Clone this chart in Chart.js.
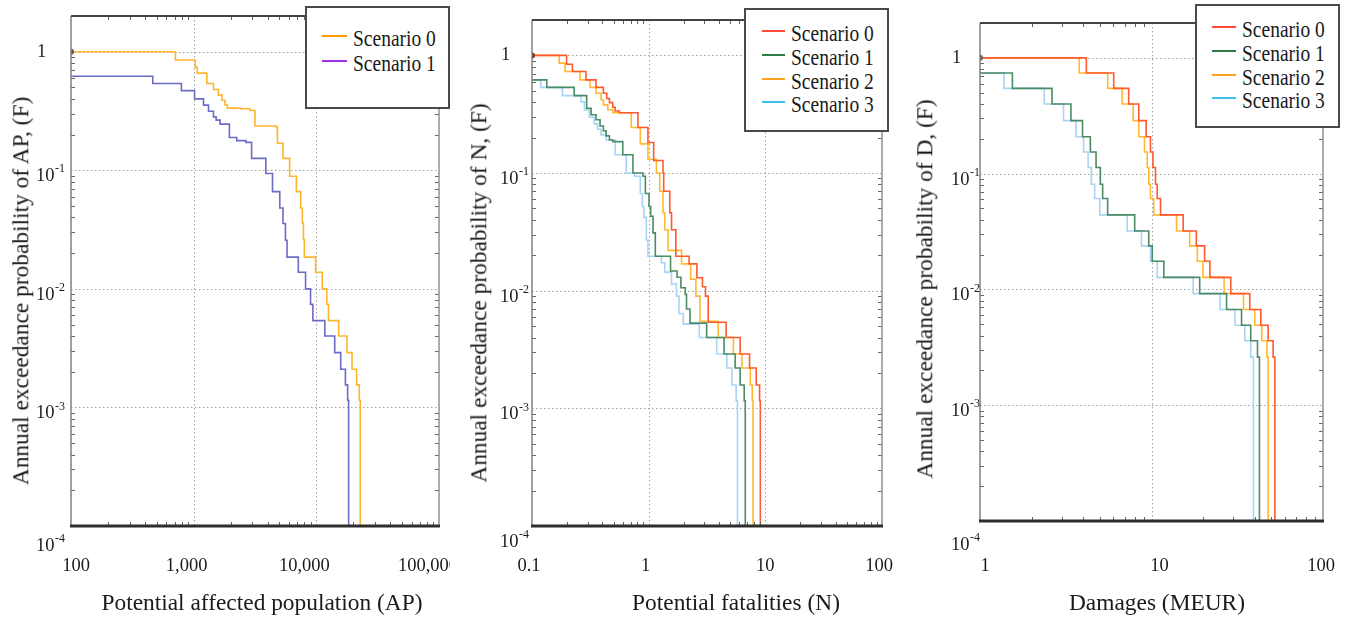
<!DOCTYPE html>
<html>
<head>
<meta charset="utf-8">
<script src="https://cdn.jsdelivr.net/npm/chart.js@4.4.1/dist/chart.umd.min.js"></script>
<style>
  body { margin: 0; background: #fff; width: 1351px; height: 623px; position: relative; overflow: hidden;
         font-family: 'Liberation Serif', 'Times New Roman', serif; color: #1a1a1a; }
  canvas { position: absolute; top: 0; }
  .legend { position: absolute; background: #fff; border: 2px solid #4a4a4a; box-sizing: border-box; }
  .legend .ln { position: absolute; height: 2px; }
  .legend .tx { position: absolute; font-size: 19.5px; line-height: 1; white-space: nowrap; transform: scaleY(1.2); transform-origin: 0 50%; }
  .title { position: absolute; font-size: 23.4px; line-height: 1; white-space: nowrap; transform: translate(-50%, -50%); }
  .title.rot { transform: translate(-50%, -50%) rotate(-90deg); }
</style>
</head>
<body>
<canvas id="c1"></canvas>
<canvas id="c2"></canvas>
<canvas id="c3"></canvas>
<script>
const scenarioNames = ['Scenario 0', 'Scenario 1', 'Scenario 2', 'Scenario 3'];
const yExps = [0, -1, -2, -3, -4];

// panel 1 - potential affected population
const apX0 = [100, 710, 1030, 1070, 1280, 1450, 1590, 1700, 1800, 1880, 2390, 2880, 3160, 4730, 4820, 5350, 6060, 6870, 7450, 7690, 7850, 7980, 9860, 11170, 12170, 12560, 15210, 17800, 19540, 21290, 22390, 22800];
const apY0 = [1, 0.85, 0.74, 0.66, 0.54, 0.48, 0.43, 0.39, 0.355, 0.334, 0.33, 0.319, 0.236, 0.23, 0.169, 0.126, 0.089, 0.066, 0.048, 0.036, 0.026, 0.0185, 0.0138, 0.01, 0.0074, 0.0054, 0.004, 0.0029, 0.0021, 0.00155, 0.00115, 0.0001];
const apX1 = [100, 464, 794, 1017, 1203, 1321, 1450, 1525, 1643, 1955, 2244, 2667, 2967, 3874, 4393, 5035, 5350, 5600, 5770, 7130, 8170, 8970, 9370, 11720, 14120, 15800, 17260, 18000, 18330];
const apY1 = [0.62, 0.54, 0.47, 0.40, 0.354, 0.315, 0.282, 0.265, 0.245, 0.189, 0.178, 0.172, 0.126, 0.094, 0.066, 0.048, 0.0356, 0.0257, 0.0185, 0.0138, 0.01, 0.0074, 0.0054, 0.004, 0.0029, 0.0021, 0.00155, 0.00115, 0.0001];
const apTicks = [100, 1000, 10000, 100000];
const apTickLabels = ['100', '1,000', '10,000', '100,000'];

// panel 2 - potential fatalities
const nX0 = [0.1, 0.198, 0.222, 0.29, 0.354, 0.409, 0.437, 0.461, 0.492, 0.516, 0.562, 0.809, 0.986, 1.104, 1.327, 1.346, 1.517, 1.57, 1.71, 2.22, 2.59, 2.89, 3.07, 3.24, 4.61, 6.08, 7.32, 8.36, 8.93, 9.06];
const nY0 = [1, 0.84, 0.73, 0.62, 0.535, 0.477, 0.43, 0.397, 0.363, 0.337, 0.326, 0.244, 0.182, 0.128, 0.1, 0.07, 0.046, 0.033, 0.0196, 0.0169, 0.0129, 0.0108, 0.009, 0.0054, 0.004, 0.0029, 0.0022, 0.00158, 0.00116, 0.0001];
const nX1 = [0.1, 0.134, 0.23, 0.294, 0.321, 0.354, 0.383, 0.409, 0.432, 0.461, 0.492, 0.6, 0.733, 0.893, 0.937, 1.006, 1.04, 1.09, 1.14, 1.54, 1.75, 1.89, 2.06, 2.11, 2.26, 3.14, 4.43, 5.51, 6.08, 6.59, 6.73];
const nY1 = [0.62, 0.535, 0.455, 0.356, 0.313, 0.284, 0.251, 0.229, 0.207, 0.191, 0.185, 0.143, 0.1, 0.094, 0.067, 0.052, 0.043, 0.031, 0.0196, 0.0147, 0.013, 0.0106, 0.0093, 0.007, 0.0053, 0.004, 0.0029, 0.0022, 0.00158, 0.00116, 0.0001];
const nX2 = [0.1, 0.171, 0.192, 0.258, 0.314, 0.354, 0.391, 0.409, 0.446, 0.492, 0.709, 0.848, 0.986, 1.165, 1.245, 1.327, 1.374, 1.466, 1.914, 2.29, 2.54, 2.75, 3.95, 5.33, 6.3, 7.43, 7.73, 7.84];
const nY2 = [1, 0.86, 0.73, 0.62, 0.535, 0.477, 0.42, 0.38, 0.345, 0.326, 0.244, 0.177, 0.131, 0.1, 0.07, 0.046, 0.033, 0.022, 0.0169, 0.0125, 0.009, 0.0055, 0.004, 0.0029, 0.0022, 0.00158, 0.00116, 0.0001];
const nX3 = [0.1, 0.119, 0.182, 0.263, 0.281, 0.31, 0.342, 0.365, 0.391, 0.432, 0.516, 0.642, 0.757, 0.848, 0.883, 0.91, 0.955, 0.986, 1.286, 1.374, 1.57, 1.73, 1.82, 1.98, 2.72, 3.83, 4.68, 5.17, 5.62, 5.77];
const nY3 = [0.62, 0.535, 0.455, 0.404, 0.344, 0.298, 0.262, 0.236, 0.211, 0.191, 0.143, 0.1, 0.094, 0.067, 0.052, 0.042, 0.027, 0.0196, 0.0173, 0.0144, 0.0114, 0.009, 0.0064, 0.0052, 0.004, 0.0029, 0.0022, 0.00158, 0.00116, 0.0001];
const nTicks = [0.1, 1, 10, 100];
const nTickLabels = ['0.1', '1', '10', '100'];

// panel 3 - damages
const dX0 = [1, 4.17, 6.02, 7.36, 8.43, 9.31, 9.86, 10.2, 10.55, 10.8, 11.29, 15.3, 18.25, 20.4, 21.9, 29, 37.4, 43.4, 47.9, 51.2, 52.4];
const dY0 = [1, 0.74, 0.545, 0.40, 0.287, 0.208, 0.154, 0.113, 0.081, 0.061, 0.044, 0.032, 0.0238, 0.0175, 0.0127, 0.0092, 0.0067, 0.0049, 0.0036, 0.0026, 0.0001];
const dX1 = [1, 1.545, 2.63, 3.39, 3.96, 4.4, 4.75, 5.03, 5.19, 5.55, 7.98, 9.64, 10.1, 11.8, 19.1, 27.4, 33.5, 37.9, 41.5, 42.6];
const dY1 = [0.74, 0.545, 0.40, 0.287, 0.208, 0.154, 0.113, 0.081, 0.061, 0.044, 0.032, 0.0238, 0.0175, 0.0127, 0.0092, 0.0067, 0.0049, 0.0036, 0.0026, 0.0001];
const dX2 = [1, 3.79, 5.55, 6.74, 7.82, 8.43, 9.1, 9.44, 9.64, 9.86, 10.3, 14.0, 16.7, 18.5, 19.95, 26.5, 34.4, 40, 44, 47.1, 47.9];
const dY2 = [1, 0.74, 0.545, 0.40, 0.287, 0.208, 0.154, 0.113, 0.081, 0.061, 0.044, 0.032, 0.0238, 0.0175, 0.0127, 0.0092, 0.0067, 0.0049, 0.0036, 0.0026, 0.0001];
const dX3 = [1, 1.38, 2.37, 3.07, 3.63, 4.02, 4.27, 4.46, 4.66, 4.99, 7.21, 8.74, 9.86, 10.8, 17.5, 25.1, 30.7, 35, 37.9, 39.3];
const dY3 = [0.74, 0.545, 0.40, 0.287, 0.208, 0.154, 0.113, 0.081, 0.061, 0.044, 0.032, 0.0238, 0.0175, 0.0127, 0.0092, 0.0067, 0.0049, 0.0036, 0.0026, 0.0001];
const dTicks = [1, 10, 100];
const dTickLabels = ['1', '10', '100'];

const pts = (xs, ys) => xs.map((x, i) => ({ x: x, y: ys[i] }));

const panels = [
  { id: 'c1', x: 0, w: 450, area: { l: 71, t: 16, r: 439, b: 526 }, xMin: 100, xMax: 100000,
    ticks: apTicks, tickLabels: apTickLabels, tickOff: [5, -7, -12, -11], yLabelX: 36, bottomDy: 20,
    xTitle: 'Potential affected population (AP)', xTitlePos: [262, 603],
    yTitle: 'Annual exceedance probability of AP, (F)', yTitlePos: [21, 291],
    legend: { box: [305, 6, 145, 103], lineX: [15, 40], textX: 46, rows: [31, 56] },
    series: [
      { name: scenarioNames[0], xs: apX0, ys: apY0, color: '#ffb52b', key: '#ff9a00', dot: '#555' },
      { name: scenarioNames[1], xs: apX1, ys: apY1, color: '#6b6bc8', key: '#a030e0' }
    ] },
  { id: 'c2', x: 450, w: 450, area: { l: 532, t: 20, r: 882, b: 526 }, xMin: 0.1, xMax: 100,
    ticks: nTicks, tickLabels: nTickLabels, tickOff: [-3, -3, 0, -3], yLabelX: 500, bottomDy: 16,
    xTitle: 'Potential fatalities (N)', xTitlePos: [736, 603],
    yTitle: 'Annual exceedance probability of N, (F)', yTitlePos: [479, 293],
    legend: { box: [744, 8, 145, 124], lineX: [16, 39], textX: 45, rows: [24, 48, 71.5, 95] },
    series: [
      { name: scenarioNames[0], xs: nX0, ys: nY0, color: '#ff5a2e', key: '#ff4a3a', dot: '#8a2a10' },
      { name: scenarioNames[1], xs: nX1, ys: nY1, color: '#4a8c66', key: '#2e7d4a' },
      { name: scenarioNames[2], xs: nX2, ys: nY2, color: '#ffb830', key: '#ffa020' },
      { name: scenarioNames[3], xs: nX3, ys: nY3, color: '#a9d3f5', key: '#3cc0f0' }
    ] },
  { id: 'c3', x: 900, w: 451, area: { l: 980, t: 23, r: 1323, b: 521 }, xMin: 1, xMax: 100,
    ticks: dTicks, tickLabels: dTickLabels, tickOff: [5, 8, -2], yLabelX: 951, bottomDy: 24,
    xTitle: 'Damages (MEUR)', xTitlePos: [1157, 603],
    yTitle: 'Annual exceedance probability of D, (F)', yTitlePos: [925, 289],
    legend: { box: [1195, 4, 145, 124], lineX: [15, 39], textX: 45, rows: [24, 47.5, 71.5, 95] },
    series: [
      { name: scenarioNames[0], xs: dX0, ys: dY0, color: '#ff5a2e', key: '#ff4a3a', dot: '#666' },
      { name: scenarioNames[1], xs: dX1, ys: dY1, color: '#4a8c66', key: '#2e7d4a' },
      { name: scenarioNames[2], xs: dX2, ys: dY2, color: '#ffb830', key: '#ffa020' },
      { name: scenarioNames[3], xs: dX3, ys: dY3, color: '#a9d3f5', key: '#3cc0f0' }
    ] }
];

function minorValues(lo, hi) {
  const out = [];
  for (let e = Math.floor(Math.log10(lo)); e <= Math.ceil(Math.log10(hi)); e++) {
    for (let k = 2; k < 10; k++) {
      const v = k * Math.pow(10, e);
      if (v > lo * 1.001 && v < hi * 0.999) out.push(v);
    }
  }
  return out;
}

function framePlugin(p) {
  return {
    id: 'frame_' + p.id,
    beforeDatasetsDraw(chart) {
      const { ctx, chartArea: a, scales: { x, y } } = chart;
      ctx.save();
      ctx.strokeStyle = '#a0a0a0';
      ctx.lineWidth = 1;
      ctx.setLineDash([1.5, 2.5]);
      p.ticks.forEach(v => {
        const px = Math.round(x.getPixelForValue(v)) + 0.5;
        if (px <= a.left + 2 || px >= a.right - 2) return;
        ctx.beginPath(); ctx.moveTo(px, a.top); ctx.lineTo(px, a.bottom); ctx.stroke();
      });
      yExps.forEach(e => {
        const py = Math.round(y.getPixelForValue(Math.pow(10, e))) + 0.5;
        if (py <= a.top + 2 || py >= a.bottom - 2) return;
        ctx.beginPath(); ctx.moveTo(a.left, py); ctx.lineTo(a.right, py); ctx.stroke();
      });
      ctx.restore();
    },
    afterDatasetsDraw(chart) {
      const { ctx, chartArea: a, scales: { x, y } } = chart;
      ctx.save();
      // minor ticks on all four sides
      ctx.strokeStyle = '#666';
      ctx.lineWidth = 1;
      minorValues(p.xMin, p.xMax).forEach(v => {
        const px = Math.round(x.getPixelForValue(v)) + 0.5;
        ctx.beginPath();
        ctx.moveTo(px, a.bottom); ctx.lineTo(px, a.bottom - 4);
        ctx.moveTo(px, a.top); ctx.lineTo(px, a.top + 4);
        ctx.stroke();
      });
      minorValues(1e-4, 2).forEach(v => {
        const py = Math.round(y.getPixelForValue(v)) + 0.5;
        ctx.beginPath();
        ctx.moveTo(a.left, py); ctx.lineTo(a.left + 4, py);
        ctx.moveTo(a.right, py); ctx.lineTo(a.right - 4, py);
        ctx.stroke();
      });
      // frame
      ctx.strokeStyle = '#808080'; ctx.lineWidth = 1.5;
      ctx.beginPath(); ctx.moveTo(a.left, a.top); ctx.lineTo(a.left, a.bottom); ctx.stroke();
      ctx.strokeStyle = '#909090';
      ctx.beginPath(); ctx.moveTo(a.right, a.top); ctx.lineTo(a.right, a.bottom); ctx.stroke();
      ctx.strokeStyle = '#444'; ctx.lineWidth = 2;
      ctx.beginPath(); ctx.moveTo(a.left, a.top); ctx.lineTo(a.right, a.top); ctx.stroke();
      ctx.strokeStyle = '#2e2e2e'; ctx.lineWidth = 3;
      ctx.beginPath(); ctx.moveTo(a.left - 1, a.bottom); ctx.lineTo(a.right + 1, a.bottom); ctx.stroke();
      // tick labels
      ctx.fillStyle = '#1a1a1a';
      ctx.font = '18.5px "Liberation Serif", serif';
      ctx.textAlign = 'center';
      ctx.textBaseline = 'middle';
      p.ticks.forEach((v, i) => {
        ctx.fillText(p.tickLabels[i], x.getPixelForValue(v) + p.tickOff[i], 566);
      });
      ctx.textAlign = 'left';
      const lx = p.yLabelX - p.x;
      yExps.forEach(e => {
        const py = y.getPixelForValue(Math.pow(10, e));
        ctx.font = '18.5px "Liberation Serif", serif';
        if (e === 0) { ctx.fillText('1', lx + 1, py); return; }
        const cy = py + (e === -4 ? p.bottomDy : 6);
        ctx.fillText('10', lx, cy);
        const w = ctx.measureText('10').width;
        ctx.font = '12px "Liberation Serif", serif';
        ctx.fillText(String(e), lx + w + 0.5, cy - 7);
      });
      ctx.restore();
    }
  };
}

function makeChart(p) {
  const cv = document.getElementById(p.id);
  cv.width = p.w; cv.height = 623;
  cv.style.left = p.x + 'px';
  const a = p.area;
  return new Chart(cv, {
    type: 'line',
    data: {
      datasets: p.series.map((s, i) => ({
        label: s.name,
        data: pts(s.xs, s.ys),
        borderColor: s.color,
        borderWidth: 1.6,
        stepped: true,
        fill: false,
        pointRadius: ctx => (i === 0 && ctx.dataIndex === 0) ? 3 : 0,
        pointBackgroundColor: s.dot || s.color,
        pointBorderWidth: 0
      }))
    },
    options: {
      responsive: false,
      animation: false,
      layout: { padding: { left: 0, top: a.t, right: p.w - (a.r - p.x), bottom: 0 } },
      plugins: { legend: { display: false }, tooltip: { enabled: false } },
      scales: {
        x: { type: 'logarithmic', min: p.xMin, max: p.xMax,
             grid: { display: false }, border: { display: false }, ticks: { display: false },
             afterFit(s) { s.height = 623 - a.b; } },
        y: { type: 'logarithmic', min: 1e-4, max: 2,
             grid: { display: false }, border: { display: false }, ticks: { display: false },
             afterFit(s) { s.width = a.l - p.x; } }
      }
    },
    plugins: [framePlugin(p)]
  });
}

function addText(cls, text, pos) {
  const d = document.createElement('div');
  d.className = cls;
  d.textContent = text;
  d.style.left = pos[0] + 'px';
  d.style.top = pos[1] + 'px';
  document.body.appendChild(d);
}

function addLegend(p) {
  const L = p.legend;
  const box = document.createElement('div');
  box.className = 'legend';
  box.style.left = L.box[0] + 'px'; box.style.top = L.box[1] + 'px';
  box.style.width = L.box[2] + 'px'; box.style.height = L.box[3] + 'px';
  p.series.forEach((s, i) => {
    const ln = document.createElement('div');
    ln.className = 'ln';
    ln.style.left = L.lineX[0] + 'px';
    ln.style.width = (L.lineX[1] - L.lineX[0]) + 'px';
    ln.style.top = (L.rows[i] - 4) + 'px';
    ln.style.background = s.key;
    box.appendChild(ln);
    const tx = document.createElement('div');
    tx.className = 'tx';
    tx.textContent = s.name;
    tx.style.left = L.textX + 'px';
    tx.style.top = (L.rows[i] - 9.75) + 'px';
    box.appendChild(tx);
  });
  document.body.appendChild(box);
}

panels.forEach(p => {
  makeChart(p);
  addText('title', p.xTitle, p.xTitlePos);
  addText('title rot', p.yTitle, p.yTitlePos);
  addLegend(p);
});
</script>
</body>
</html>
